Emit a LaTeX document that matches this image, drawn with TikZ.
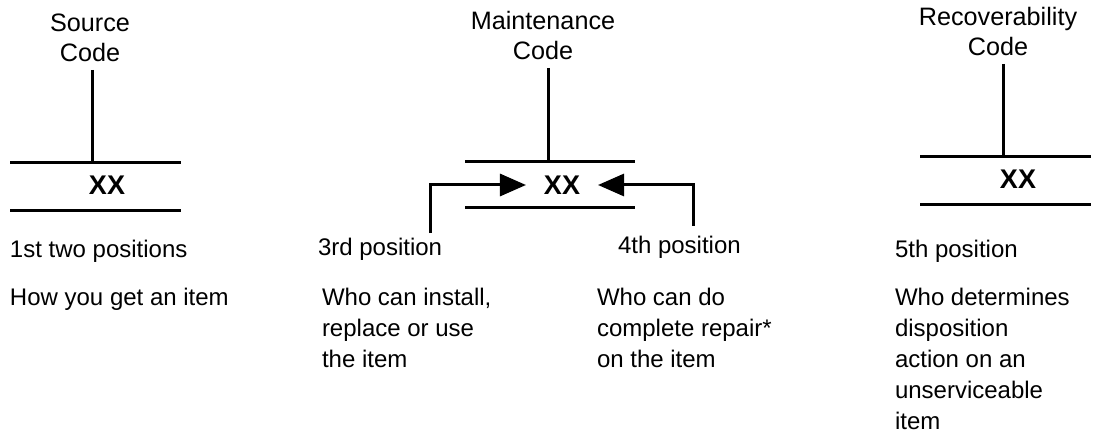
\documentclass[tikz,border=0pt]{standalone}
\usepackage{fontspec}
\setmainfont{Liberation Sans}
\usetikzlibrary{
    arrows.meta,
    calc,
    positioning
}
\tikzset{
    every picture/.style = {
        x = 0.5pt,
        y = -0.5pt,
        line width = 1.5pt,
        > = {Triangle[length = 13pt, width = 11pt]}
    },
    every node/.style = {
        inner sep = 0pt,
        outer sep = 0pt,
        font = \fontsize{12}{15}\selectfont
    },
    title/.style = {
        align = center,
        anchor = south,
        outer sep = 4pt,
        font = \fontsize{12.6}{15}\selectfont
    },
    code/.style = {
        font = \fontsize{13.5}{15}\selectfont\bfseries,
        inner sep = 4pt,
        outer sep = 5pt
    },
    note/.style = {
        align = left,
        anchor = base west,
        font = \fontsize{12}{15.5}\selectfont
    }
}

\begin{document}
\begin{tikzpicture}
    \useasboundingbox (0, 0) rectangle (1104, 433);
    % source code
    \node[title] (srctitle) at (90, 70) {Source\\Code};
    \node[code] (srcxx) at (107, 185) {XX};
    \coordinate (srcjoin) at (92, 163);
    \draw (10, 163) -- (181, 163);
    \draw (10, 211) -- (181, 211);
    \draw (srcjoin |- srctitle.south) -- (srcjoin);
    \node[note] (pos12) at (10, 257) {1st two positions};
    \node[note] (srcwhat) at (10, 305) {How you get an item};
    % maintenance code
    \node[title] (mnttitle) at (543, 68) {Maintenance\\Code};
    \node[code] (mntxx) at (562, 185) {XX};
    \coordinate (mntjoin) at (548, 162);
    \draw (465, 162) -- (635, 162);
    \draw (465, 208) -- (635, 208);
    \draw (mntjoin |- mnttitle.south) -- (mntjoin);
    \coordinate (in3) at (430, 233);
    \coordinate (in4) at (693, 226);
    \draw[->] (in3) |- (mntxx);
    \draw[->] (in4) |- (mntxx);
    \node[note] (pos3) at (318, 256) {3rd position};
    \node[note] (mntwho3) at (322, 367) {Who can install,\\replace or use\\the item};
    \node[note] (pos4) at (618, 254) {4th position};
    \node[note] (mntwho4) at (597, 367) {Who can do\\complete repair*\\on the item};
    % recoverability code
    \node[title] (rectitle) at (998, 64) {Recoverability\\Code};
    \node[code] (recxx) at (1018, 179) {XX};
    \coordinate (recjoin) at (1003, 157);
    \draw (920, 157) -- (1091, 157);
    \draw (920, 205) -- (1091, 205);
    \draw (recjoin |- rectitle.south) -- (recjoin);
    \node[note] (pos5) at (895, 257) {5th position};
    \node[note] (recwho) at (895, 429) {Who determines\\disposition\\action on an\\unserviceable\\item};
\end{tikzpicture}
\end{document}
